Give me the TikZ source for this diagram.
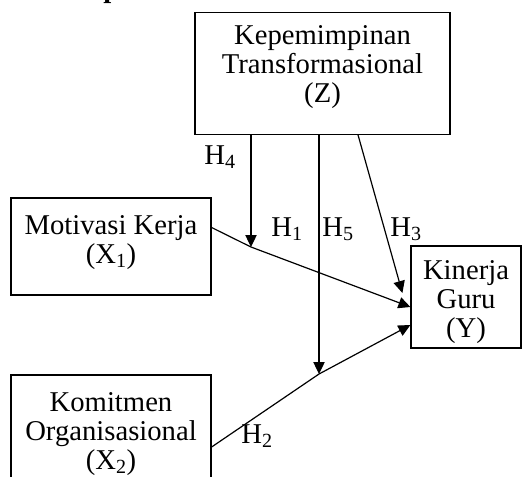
\documentclass[tikz,border=0pt]{standalone}
\usepackage{fontspec}
\setmainfont{Liberation Serif}
\usetikzlibrary{calc,arrows.meta,positioning}
\tikzset{var/.style={draw, line width=0.9pt, rectangle, align=center, text=black, inner sep=0pt, font=\fontsize{21.5pt}{21.8pt}\selectfont}, hyp/.style={inner sep=0pt, font=\fontsize{21.5pt}{21.8pt}\selectfont}, link/.style={line width=0.9pt, -{Triangle[length=9pt,width=8.5pt]}}}

\begin{document}
\begin{tikzpicture}[x=0.75pt, y=-0.75pt]
    \useasboundingbox (0,0) rectangle (523,476);
    \node[anchor=base west, inner sep=0pt, font=\bfseries\fontsize{21.5pt}{21.8pt}\selectfont] (head) at (103,-3) {p};
    \node[var, minimum width=191.25pt, minimum height=91.5pt] (Z) at (322.5,73.25) {Kepemimpinan\\Transformasional\\(Z)\\[-8pt]};
    \node[var, minimum width=150pt, minimum height=72.75pt] (X1) at (111,246.5) {Motivasi Kerja\\(X\textsubscript{1})\rule[-10.7pt]{0pt}{1pt}};
    \node[var, minimum width=150pt, minimum height=79.5pt] (X2) at (111,428) {\rule{0pt}{23pt}Komitmen\\Organisasional\\(X\textsubscript{2})};
    \node[var, minimum width=82.5pt, minimum height=76.5pt] (Y) at (466,297) {\rule{0pt}{21.7pt}Kinerja\\Guru\\(Y)};
    \coordinate (m1) at (251,247);
    \coordinate (m2) at (319,374);
    \coordinate (h3) at ($(Z.south)+(35.5,0)$);
    \draw[link] ($(X1.east)+(0,-19)$) -- (m1) -- ($(Y.west)+(0,10)$);
    \draw[link] ($(X2.east)+(0,19)$) -- (m2) -- ($(Y.west)+(0,28)$);
    \draw[link] (h3) -- ($(Y.west)+(-8,-4)$);
    \draw[link] (Z.south -| m1) -- (m1);
    \draw[link] (Z.south -| m2) -- (m2);
    \node[hyp] (H4) at (220,157) {H\textsubscript{4}};
    \node[hyp] (H1) at (287,229) {H\textsubscript{1}};
    \node[hyp] (H5) at (338,229) {H\textsubscript{5}};
    \node[hyp] (H3) at (406,229) {H\textsubscript{3}};
    \node[hyp] (H2) at (257,436) {H\textsubscript{2}};
\end{tikzpicture}
\end{document}
